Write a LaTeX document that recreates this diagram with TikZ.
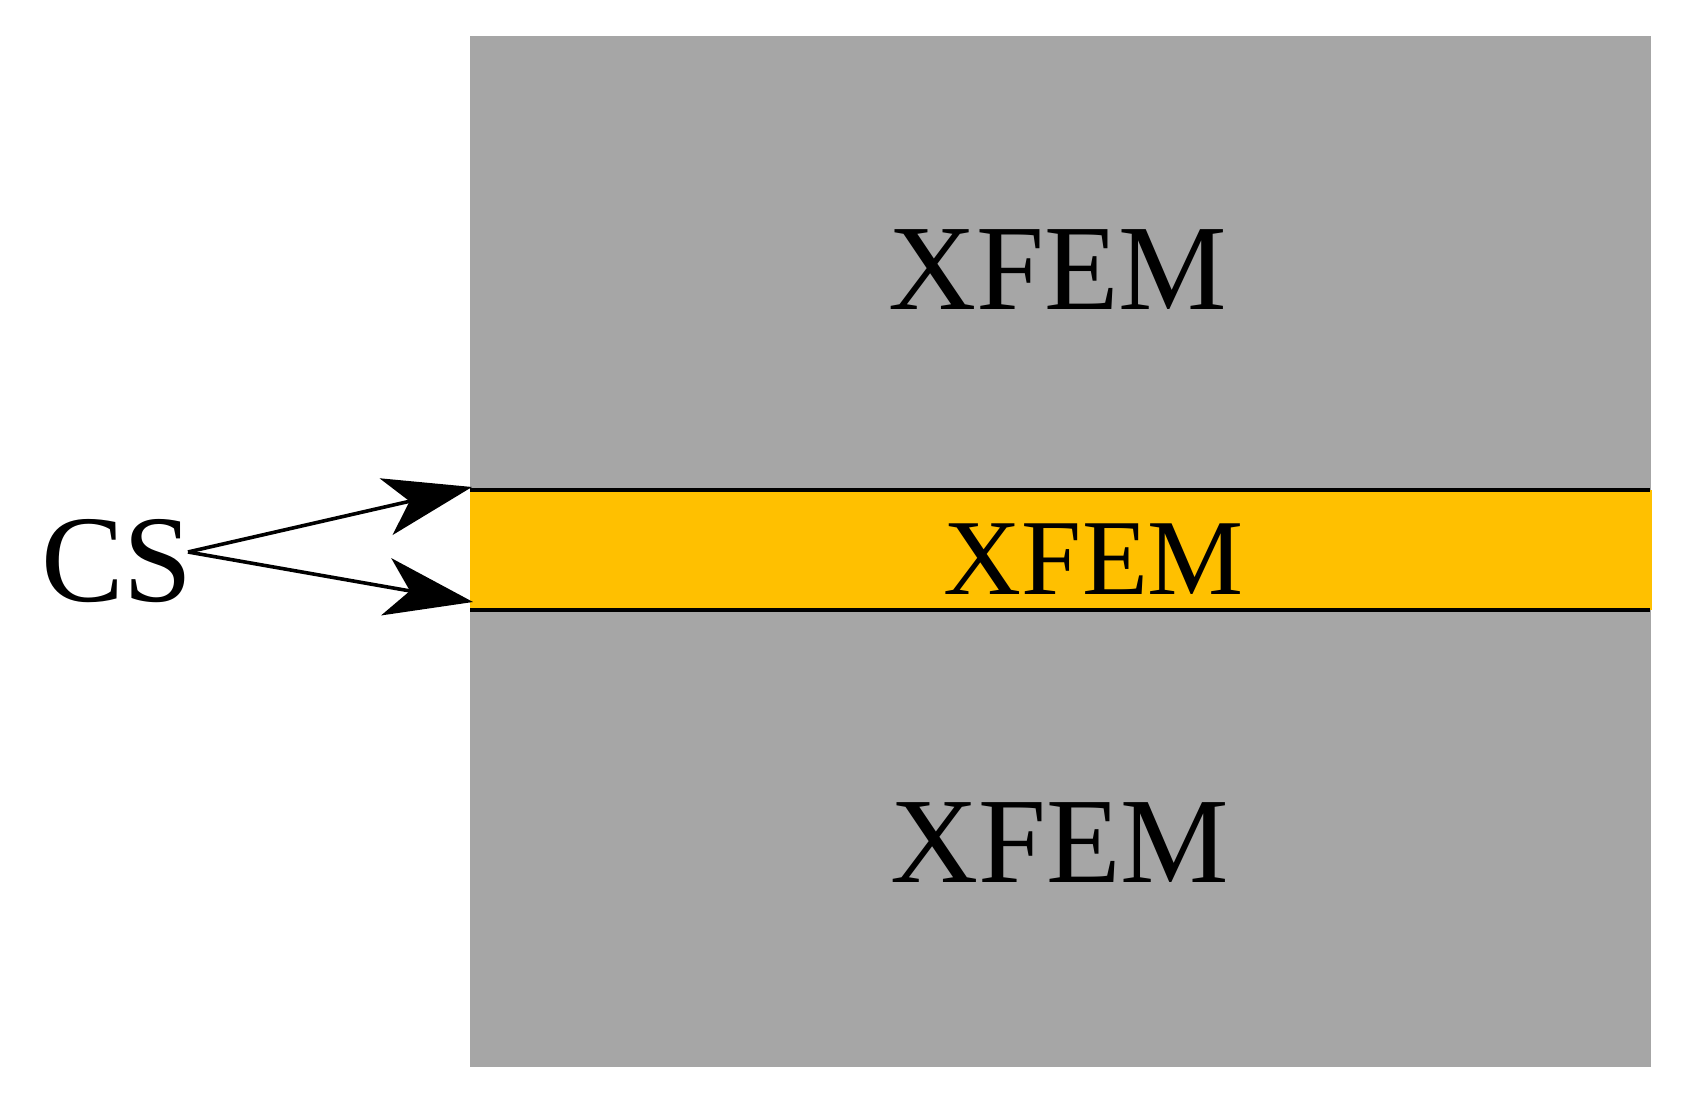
\documentclass[tikz,border=0pt]{standalone}
\usepackage{fontspec}
\setmainfont{Liberation Serif}
\usetikzlibrary{arrows.meta}
\definecolor{slabgray}{HTML}{A6A6A6}
\definecolor{bandorange}{HTML}{FFC000}
\tikzset{
  lbl/.style={inner sep=0pt, anchor=base, text=black},
  csarrow/.style={line width=1.8pt, -{Stealth[length=44pt, width=29pt, inset=12pt]}},
  edgeline/.style={line width=2pt, black}
}
\begin{document}
\begin{tikzpicture}[x=0.5pt,y=-0.5pt]
\useasboundingbox (0,0) rectangle (1688,1095);
% gray domain
\fill[slabgray] (470,36) rectangle (1651,1067);
% orange band
\fill[bandorange] (470,490) rectangle (1652,610);
\draw[edgeline] (470,490) -- (1650,490);
\draw[edgeline] (470,610) -- (1650,610);
% labels
\node[lbl, font=\fontsize{61pt}{61pt}\selectfont] (xtop) at (1058,310) {XFEM};
\node[lbl, font=\fontsize{54pt}{54pt}\selectfont] (xmid) at (1094,595) {XFEM};
\node[lbl, font=\fontsize{61pt}{61pt}\selectfont] (xbot) at (1060,883) {XFEM};
\node[lbl, font=\fontsize{62pt}{62pt}\selectfont] (cs) at (117,602) {CS};
% arrows
\coordinate (csp) at (188,552);
\coordinate (tipa) at (472,487);
\coordinate (tipb) at (473,602);
\draw[csarrow] (csp) -- (tipa);
\draw[csarrow] (csp) -- (tipb);
\end{tikzpicture}
\end{document}
